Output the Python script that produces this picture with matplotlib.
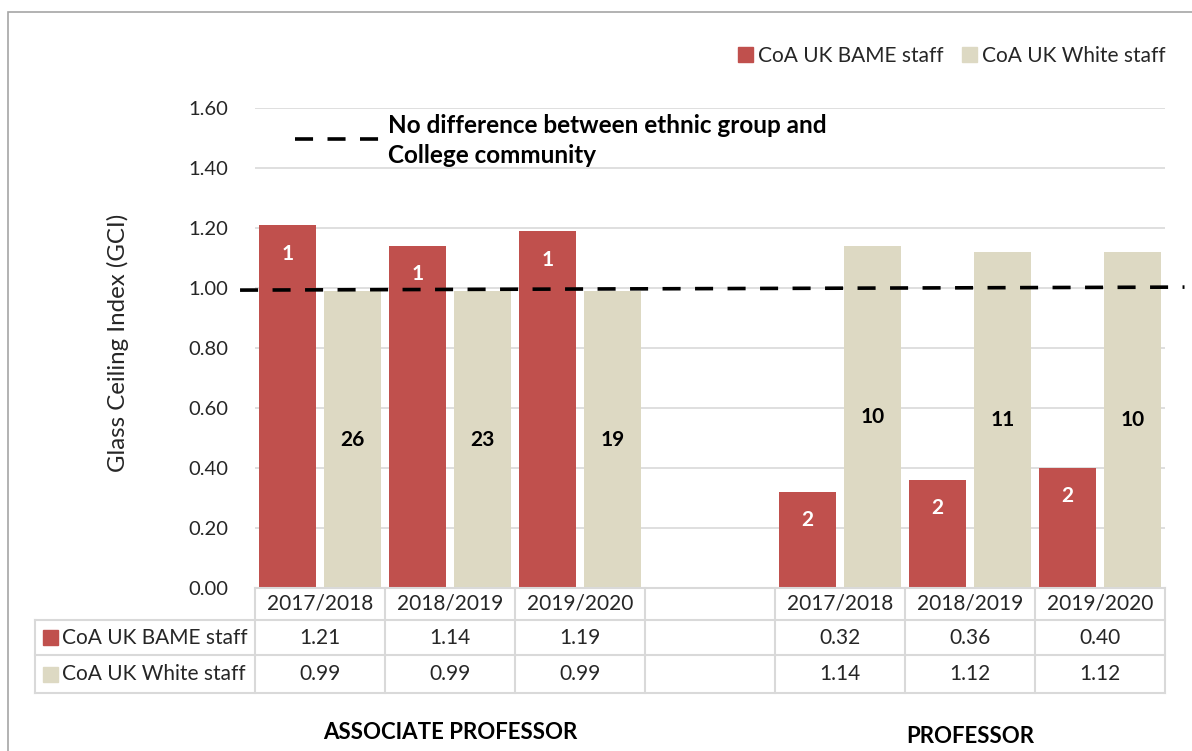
"""Glass Ceiling Index by ethnic group, with data table below"""
import numpy as np
from matplotlib import pyplot as plt
from matplotlib.patches import Rectangle, Patch
from matplotlib.lines import Line2D
from matplotlib.transforms import blended_transform_factory

plt.rcParams['font.family'] = ['Lato', 'DejaVu Sans']

years = ['2017/2018', '2018/2019', '2019/2020', '', '2017/2018', '2018/2019', '2019/2020']
bame = [1.21, 1.14, 1.19, np.nan, 0.32, 0.36, 0.40]
white = [0.99, 0.99, 0.99, np.nan, 1.14, 1.12, 1.12]
bame_n = ['1', '1', '1', '', '2', '2', '2']
white_n = ['26', '23', '19', '', '10', '11', '10']
series = ['CoA UK BAME staff', 'CoA UK White staff']
groups = ['ASSOCIATE PROFESSOR', 'PROFESSOR']
ref_line = [0.993, 1.003]

RED = '#C0504D'
BEIGE = '#DDD9C3'
GRID = '#D9D9D9'
TXT = '#262626'

W, H = 1192, 751
fig = plt.figure(figsize=(W / 100, H / 100), dpi=100)
ax = fig.add_axes([255 / W, 1 - 588 / H, 910 / W, 480 / H])

# outer frame (open on right/bottom like the cropped screenshot)
fig.add_artist(Rectangle((8 / W, -0.1), 1.2, 1 - 12 / H + 0.1, transform=fig.transFigure,
                         fill=False, edgecolor='#A6A6A6', linewidth=1.2))

x = np.arange(len(years))
bw = 0.44
off = 0.248
ax.bar(x - off, bame, bw, color=RED, zorder=2)
ax.bar(x + off, white, bw, color=BEIGE, zorder=2)

# data labels
for xi, v, n in zip(x, bame, bame_n):
    if n:
        ax.text(xi - off, v - 0.095, n, ha='center', va='center', color='white',
                fontsize=15, fontweight='bold', zorder=3)
for xi, v, n in zip(x, white, white_n):
    if n:
        ax.text(xi + off, v / 2, n, ha='center', va='center', color='black',
                fontsize=15, fontweight='bold', zorder=3)

ax.set_xlim(-0.5, len(years) - 0.5)
ax.set_ylim(0, 1.6)
ax.set_yticks(np.arange(0, 1.61, 0.2))
ax.set_yticklabels(['%.2f' % v for v in np.arange(0, 1.61, 0.2)], fontsize=14.5, color=TXT)
ax.tick_params(axis='y', length=0, pad=19)
ax.set_xticks([])
ax.grid(axis='y', color=GRID, linewidth=1.2, zorder=0)
for s in ax.spines.values():
    s.set_visible(False)

# reference line at GCI = 1
ax.plot([-0.615, 6.65], ref_line, color='black', linewidth=2.6, dashes=(5, 4),
        clip_on=False, zorder=4)
ax.plot([-0.19, 0.45], [1.497, 1.497], color='black', linewidth=2.6, dashes=(5, 4),
        clip_on=False, zorder=4)
ax.text(0.52, 1.492, 'No difference between ethnic group and\nCollege community',
        ha='left', va='center', fontsize=17.5, fontweight='bold', linespacing=1.35)

fig.text(118 / W, 1 - 343 / H, 'Glass Ceiling Index (GCI)', rotation=90,
         ha='center', va='center', fontsize=17.3, color=TXT)

handles = [Patch(color=RED), Patch(color=BEIGE)]
ax.legend(handles, series, ncol=2, loc='upper right', frameon=False,
          bbox_to_anchor=(1184 / W, 1 - 27 / H), bbox_transform=fig.transFigure,
          fontsize=15, handlelength=0.7, handleheight=0.7, handletextpad=0.25,
          columnspacing=0.9, labelcolor=TXT)

# data table under the axis
tr = blended_transform_factory(ax.transData, ax.transAxes)
rows = [0, -32 / 480, -67 / 480, -105 / 480]
lab_left = (35 - 255) / 130 - 0.5
lkw = dict(color=GRID, linewidth=1.5, transform=tr, clip_on=False)
edges = np.arange(len(years) + 1) - 0.5
for y in rows:
    ax.add_line(Line2D([lab_left if y < 0 else -0.5, edges[-1]], [y, y], **lkw))
for e in edges:
    ax.add_line(Line2D([e, e], [rows[0], rows[-1]], **lkw))
ax.add_line(Line2D([lab_left, lab_left], [rows[1], rows[-1]], **lkw))

tkw = dict(ha='center', va='center', fontsize=15, color=TXT, transform=tr, clip_on=False)
for xi, yr, b, w in zip(x, years, bame, white):
    ax.text(xi, (rows[0] + rows[1]) / 2, yr, **tkw)
    if yr:
        ax.text(xi, (rows[1] + rows[2]) / 2, '%.2f' % b, **tkw)
        ax.text(xi, (rows[2] + rows[3]) / 2, '%.2f' % w, **tkw)

for i, (name, col) in enumerate(zip(series, [RED, BEIGE])):
    yc = (rows[i + 1] + rows[i + 2]) / 2
    sq = 15 / 480
    ax.add_patch(Rectangle((lab_left + 8 / 130, yc - sq / 2), 15 / 130, sq, color=col,
                           transform=tr, clip_on=False))
    ax.text(lab_left + 27 / 130, yc, name, ha='left', va='center', fontsize=15,
            color=TXT, transform=tr, clip_on=False)

ax.text(1, -0.302, groups[0], ha='center', va='center', fontsize=16,
        fontweight='bold', transform=tr, clip_on=False)
ax.text(5, -0.31, groups[1], ha='center', va='center', fontsize=16,
        fontweight='bold', transform=tr, clip_on=False)

fig.savefig('out.png', dpi=100)
